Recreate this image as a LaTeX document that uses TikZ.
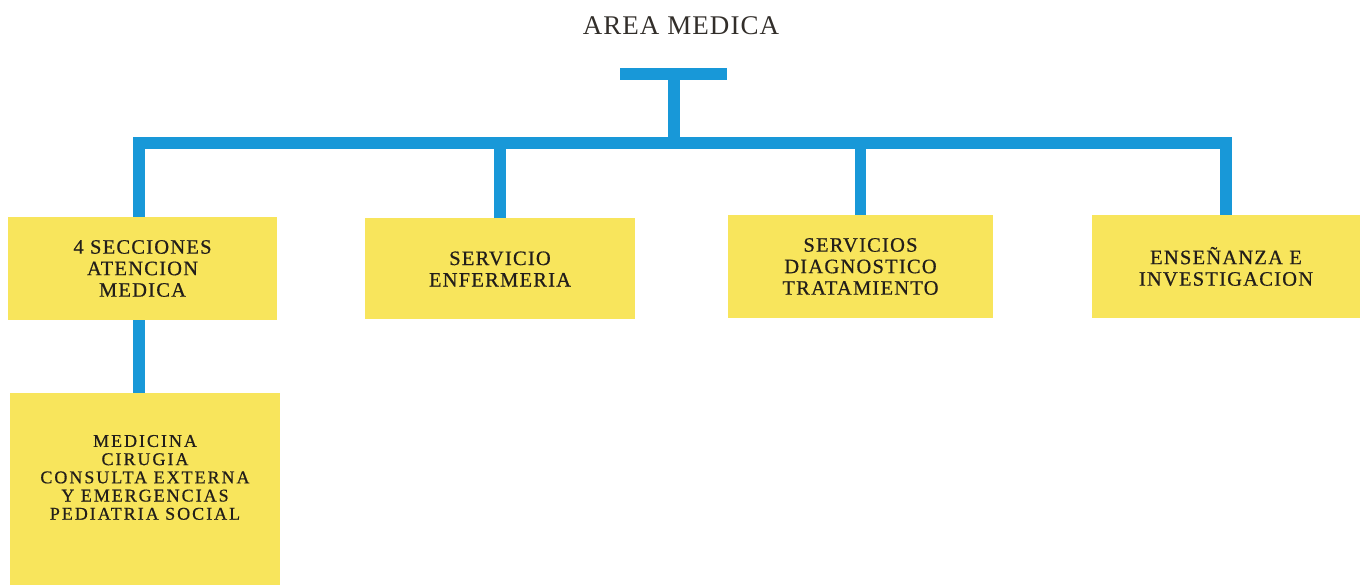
\documentclass[tikz,border=0pt]{standalone}
\usepackage{fontspec}
\setmainfont{Liberation Serif}
\newfontfamily\boxfont[LetterSpace=6,FakeBold=0.6]{Liberation Serif}
\newfontfamily\listfont[LetterSpace=11,FakeBold=0.6]{Liberation Serif}
\newfontfamily\titlefont[LetterSpace=4]{Liberation Serif}
\definecolor{barblue}{RGB}{24,152,216}
\definecolor{boxyellow}{RGB}{248,229,92}
\definecolor{ink}{RGB}{34,30,26}
\definecolor{titleink}{RGB}{50,46,42}
\begin{document}
\begin{tikzpicture}[x=1pt,y=-1pt,
  conn/.style={draw=barblue, line width=11.5pt, line join=miter, line cap=butt},
  ybox/.style={fill=boxyellow, inner sep=0pt, align=center, text=ink,
    font=\boxfont\fontsize{20.5}{21.5}\selectfont, minimum width=269pt, minimum height=103pt}]
\useasboundingbox (0,0) rectangle (1361,585);

\node[font=\titlefont\fontsize{27}{27}\selectfont, text=titleink] (title) at (681,26) {AREA MEDICA};

\node[ybox] (b1) at (142.5,268.5) {4 SECCIONES\\ATENCION\\MEDICA};
\node[ybox, minimum width=270pt, minimum height=101pt] (b2) at (500,269) {SERVICIO\\ENFERMERIA};
\node[ybox, minimum width=265pt] (b3) at (860.5,266.5) {SERVICIOS\\DIAGNOSTICO\\TRATAMIENTO};
\node[ybox, minimum width=268pt] (b4) at (1226,266.5) {ENSEÑANZA E\\INVESTIGACION};
\node[fill=boxyellow, inner sep=0pt, text=ink] (b5) at (145,489)
  {\begin{minipage}[c][192pt][t]{270pt}\centering\listfont\fontsize{18}{18.2}\selectfont
   \vspace*{42pt}MEDICINA\\CIRUGIA\\CONSULTA EXTERNA\\Y EMERGENCIAS\\PEDIATRIA SOCIAL\end{minipage}};

\coordinate (tl) at (620,74);
\coordinate (tr) at (727,74);
\coordinate (tm) at (674,74);
\coordinate (hub) at (674,143);

\draw[conn] (tl) -- (tr);
\draw[conn] (tm) -- (hub);
\draw[conn] ([xshift=-3.5pt]b1.north) |- (hub) -| (b4.north);
\draw[conn] (b2.north) -- (b2.north |- hub);
\draw[conn] (b3.north) -- (b3.north |- hub);
\draw[conn] ([xshift=-3.5pt]b1.south) -- ([xshift=-3.5pt]b1.south |- b5.north);
\end{tikzpicture}
\end{document}
